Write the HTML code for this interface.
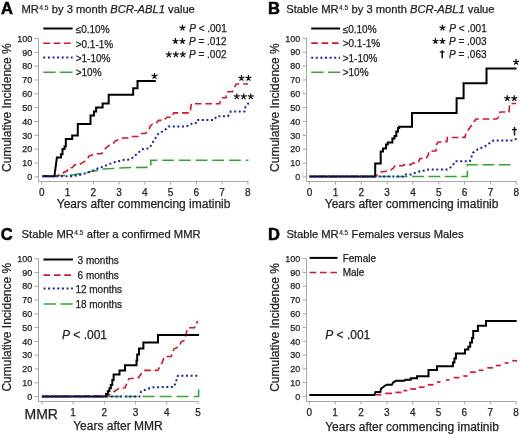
<!DOCTYPE html>
<html><head><meta charset="utf-8"><style>
html,body{margin:0;padding:0;background:#fff;}
svg{display:block;filter:blur(0.3px);}
</style></head><body>
<svg width="520" height="434" viewBox="0 0 520 434" font-family='"Liberation Sans", sans-serif' fill="#222">
<style>text{stroke:#222;stroke-width:0.25px;paint-order:stroke;}</style>
<rect width="520" height="434" fill="#fff"/>
<text x="1.0" y="13.9" font-size="16.5" text-anchor="start" font-weight="bold" style="fill:#000;stroke:#000;stroke-width:0.5px">A</text>
<text x="21.4" y="12.9" font-size="11.2" text-anchor="start" font-weight="normal" >MR<tspan font-size="6.6" dx="0.5" dy="-3.1" stroke-width="0.15">4.5</tspan><tspan dx="0.2" dy="3.1"> by 3 month </tspan><tspan font-style="italic">BCR-ABL1</tspan> value</text>
<line x1="38.5" y1="38.5" x2="38.5" y2="181.5" stroke="#a6a6a6" stroke-width="1"/>
<line x1="38.0" y1="181.5" x2="248.5" y2="181.5" stroke="#a6a6a6" stroke-width="1"/>
<line x1="34.5" y1="176.80" x2="38.5" y2="176.80" stroke="#a6a6a6" stroke-width="1"/>
<text x="32.20" y="180.00" font-size="9" text-anchor="end" font-weight="normal" >0</text>
<line x1="34.5" y1="162.97" x2="38.5" y2="162.97" stroke="#a6a6a6" stroke-width="1"/>
<text x="32.20" y="166.17" font-size="9" text-anchor="end" font-weight="normal" >10</text>
<line x1="34.5" y1="149.14" x2="38.5" y2="149.14" stroke="#a6a6a6" stroke-width="1"/>
<text x="32.20" y="152.34" font-size="9" text-anchor="end" font-weight="normal" >20</text>
<line x1="34.5" y1="135.31" x2="38.5" y2="135.31" stroke="#a6a6a6" stroke-width="1"/>
<text x="32.20" y="138.51" font-size="9" text-anchor="end" font-weight="normal" >30</text>
<line x1="34.5" y1="121.48" x2="38.5" y2="121.48" stroke="#a6a6a6" stroke-width="1"/>
<text x="32.20" y="124.68" font-size="9" text-anchor="end" font-weight="normal" >40</text>
<line x1="34.5" y1="107.65" x2="38.5" y2="107.65" stroke="#a6a6a6" stroke-width="1"/>
<text x="32.20" y="110.85" font-size="9" text-anchor="end" font-weight="normal" >50</text>
<line x1="34.5" y1="93.82" x2="38.5" y2="93.82" stroke="#a6a6a6" stroke-width="1"/>
<text x="32.20" y="97.02" font-size="9" text-anchor="end" font-weight="normal" >60</text>
<line x1="34.5" y1="79.99" x2="38.5" y2="79.99" stroke="#a6a6a6" stroke-width="1"/>
<text x="32.20" y="83.19" font-size="9" text-anchor="end" font-weight="normal" >70</text>
<line x1="34.5" y1="66.16" x2="38.5" y2="66.16" stroke="#a6a6a6" stroke-width="1"/>
<text x="32.20" y="69.36" font-size="9" text-anchor="end" font-weight="normal" >80</text>
<line x1="34.5" y1="52.33" x2="38.5" y2="52.33" stroke="#a6a6a6" stroke-width="1"/>
<text x="32.20" y="55.53" font-size="9" text-anchor="end" font-weight="normal" >90</text>
<line x1="34.5" y1="38.50" x2="38.5" y2="38.50" stroke="#a6a6a6" stroke-width="1"/>
<text x="32.20" y="41.70" font-size="9" text-anchor="end" font-weight="normal" >100</text>
<line x1="41.90" y1="181.5" x2="41.90" y2="184.5" stroke="#a6a6a6" stroke-width="1"/>
<text x="41.90" y="195.7" font-size="10" text-anchor="middle" font-weight="normal" >0</text>
<line x1="67.65" y1="181.5" x2="67.65" y2="184.5" stroke="#a6a6a6" stroke-width="1"/>
<text x="67.65" y="195.7" font-size="10" text-anchor="middle" font-weight="normal" >1</text>
<line x1="93.40" y1="181.5" x2="93.40" y2="184.5" stroke="#a6a6a6" stroke-width="1"/>
<text x="93.40" y="195.7" font-size="10" text-anchor="middle" font-weight="normal" >2</text>
<line x1="119.15" y1="181.5" x2="119.15" y2="184.5" stroke="#a6a6a6" stroke-width="1"/>
<text x="119.15" y="195.7" font-size="10" text-anchor="middle" font-weight="normal" >3</text>
<line x1="144.90" y1="181.5" x2="144.90" y2="184.5" stroke="#a6a6a6" stroke-width="1"/>
<text x="144.90" y="195.7" font-size="10" text-anchor="middle" font-weight="normal" >4</text>
<line x1="170.65" y1="181.5" x2="170.65" y2="184.5" stroke="#a6a6a6" stroke-width="1"/>
<text x="170.65" y="195.7" font-size="10" text-anchor="middle" font-weight="normal" >5</text>
<line x1="196.40" y1="181.5" x2="196.40" y2="184.5" stroke="#a6a6a6" stroke-width="1"/>
<text x="196.40" y="195.7" font-size="10" text-anchor="middle" font-weight="normal" >6</text>
<line x1="222.15" y1="181.5" x2="222.15" y2="184.5" stroke="#a6a6a6" stroke-width="1"/>
<text x="222.15" y="195.7" font-size="10" text-anchor="middle" font-weight="normal" >7</text>
<line x1="247.90" y1="181.5" x2="247.90" y2="184.5" stroke="#a6a6a6" stroke-width="1"/>
<text x="247.90" y="195.7" font-size="10" text-anchor="middle" font-weight="normal" >8</text>
<text x="0" y="0" font-size="12" text-anchor="middle" transform="translate(11.4,107.6) rotate(-90)">Cumulative Incidence %</text>
<text x="56.8" y="207.9" font-size="12" text-anchor="start" font-weight="normal" >Years after commencing imatinib</text>
<line x1="43.3" y1="28.5" x2="72.6" y2="28.5" stroke="#000" stroke-width="2.0"/>
<text x="75.7" y="32.70" font-size="10" text-anchor="start" font-weight="normal" >&#8804;0.10%</text>
<line x1="43.3" y1="43.3" x2="72.6" y2="43.3" stroke="#d81428" stroke-width="1.6" stroke-dasharray="6.6 3.8"/>
<text x="75.7" y="47.50" font-size="10" text-anchor="start" font-weight="normal" >&gt;0.1-1%</text>
<line x1="43.3" y1="57.5" x2="72.6" y2="57.5" stroke="#1e1eb0" stroke-width="2" stroke-dasharray="2 2.6"/>
<text x="75.7" y="61.70" font-size="10" text-anchor="start" font-weight="normal" >&gt;1-10%</text>
<line x1="43.3" y1="72.2" x2="72.6" y2="72.2" stroke="#30a830" stroke-width="1.4" stroke-dasharray="12.3 4.6"/>
<text x="75.7" y="76.40" font-size="10" text-anchor="start" font-weight="normal" >&gt;10%</text>
<path d="M182.45,27.80L182.45,24.70M182.45,27.80L185.40,26.84M182.45,27.80L184.27,30.31M182.45,27.80L180.63,30.31M182.45,27.80L179.50,26.84" stroke="#111" stroke-width="1.25" fill="none" stroke-linecap="butt"/>
<text x="189.2" y="31.5" font-size="10" text-anchor="start" font-weight="normal" ><tspan font-style="italic">P</tspan> &lt; .001</text>
<path d="M175.45,41.20L175.45,38.10M175.45,41.20L178.40,40.24M175.45,41.20L177.27,43.71M175.45,41.20L173.63,43.71M175.45,41.20L172.50,40.24" stroke="#111" stroke-width="1.25" fill="none" stroke-linecap="butt"/>
<path d="M182.45,41.20L182.45,38.10M182.45,41.20L185.40,40.24M182.45,41.20L184.27,43.71M182.45,41.20L180.63,43.71M182.45,41.20L179.50,40.24" stroke="#111" stroke-width="1.25" fill="none" stroke-linecap="butt"/>
<text x="189.0" y="44.8" font-size="10" text-anchor="start" font-weight="normal" ><tspan font-style="italic">P</tspan> = .012</text>
<path d="M168.85,54.50L168.85,51.40M168.85,54.50L171.80,53.54M168.85,54.50L170.67,57.01M168.85,54.50L167.03,57.01M168.85,54.50L165.90,53.54" stroke="#111" stroke-width="1.25" fill="none" stroke-linecap="butt"/>
<path d="M175.85,54.50L175.85,51.40M175.85,54.50L178.80,53.54M175.85,54.50L177.67,57.01M175.85,54.50L174.03,57.01M175.85,54.50L172.90,53.54" stroke="#111" stroke-width="1.25" fill="none" stroke-linecap="butt"/>
<path d="M182.85,54.50L182.85,51.40M182.85,54.50L185.80,53.54M182.85,54.50L184.67,57.01M182.85,54.50L181.03,57.01M182.85,54.50L179.90,53.54" stroke="#111" stroke-width="1.25" fill="none" stroke-linecap="butt"/>
<text x="189.0" y="58.1" font-size="10" text-anchor="start" font-weight="normal" ><tspan font-style="italic">P</tspan> = .002</text>
<polyline points="42.5,176.2 56,175.8 72,175 76,174.4 86.6,172.7 90,171.5 98,170.4 100.5,169.2 112,168.5 118,168 132,167.5 150.8,167.3 150.8,160.2 248.5,160.2" fill="none" stroke="#30a830" stroke-width="1.6" stroke-dasharray="11.8 4.9" stroke-dashoffset="5.99" stroke-linejoin="miter"/>
<polyline points="42.5,176.2 56,176.2 60,174.5 64,172.2 67,171 68.5,168 72.5,167.5 74.5,165 79.5,164.6 83,162.3 86.6,160 89.2,156 96,153.8 101.5,153.8 104.6,149.2 109,145.4 113,144 115,141.2 119,139.6 123,138 128,138 131.5,136.5 137.7,136.5 140,133.5 145,133.5 148.5,131 150,126.5 152.3,124.2 155.4,124.2 158.5,120.4 163.8,120.4 167,117.3 171.5,117.3 173.8,112.9 190,112.9 191.4,103.7 219.6,103.7 221.5,97.8 226,97.8 227,91.7 232.5,91.7 236.2,84 248,84" fill="none" stroke="#d81428" stroke-width="1.6" stroke-dasharray="6.6 3.8" stroke-dashoffset="0" stroke-linejoin="miter"/>
<polyline points="42.5,176.3 54.4,176.3 56.9,157.6 61,157.6 61,154.3 62.5,154.3 62.5,149 64.5,149 64.5,146.5 65.8,146.5 65.8,139 72.2,139 72.2,135.4 77.8,135.4 77.8,124 90.5,124 90.5,115.6 94,115.6 94,111.6 96.1,111.6 96.1,107.6 102.6,107.6 102.6,103.5 108.7,103.5 108.7,94.7 133.2,94.7 133.2,88.2 137.5,88.2 137.5,81 155.8,81" fill="none" stroke="#000" stroke-width="2.0" stroke-linejoin="miter"/>
<polyline points="42.5,176.2 72,176.2 75.5,175.6 79,175 82,174.4 86.6,172.9 91.2,171.5 95.8,169.2 100,167.7 104.6,166 109.2,164.2 113.8,162.5 117.3,161.3 120.8,160.8 124.2,159.8 128.8,159.6 132.3,157.9 134.6,156.2 136.9,153.8 139.8,151.5 142.7,149.2 145,148.3 148.5,148.5 150.8,145.8 152.5,142.9 154.2,140 157,135.8 158.5,133.5 161.5,132 164.6,130.4 168.5,126.5 169.5,126.4 186,126.4 189.9,125.2 192.5,123 197,123 198,120 214,120 216.9,116.2 228,116.2 230.7,111.6 244.5,111.6 245.4,107 249,102.4" fill="none" stroke="#1e1eb0" stroke-width="2" stroke-dasharray="2 2.6" stroke-dashoffset="0" stroke-linejoin="miter"/>
<path d="M154.50,76.00L154.50,72.90M154.50,76.00L157.45,75.04M154.50,76.00L156.32,78.51M154.50,76.00L152.68,78.51M154.50,76.00L151.55,75.04" stroke="#111" stroke-width="1.25" fill="none" stroke-linecap="butt"/>
<path d="M241.45,78.00L241.45,74.90M241.45,78.00L244.40,77.04M241.45,78.00L243.27,80.51M241.45,78.00L239.63,80.51M241.45,78.00L238.50,77.04" stroke="#111" stroke-width="1.25" fill="none" stroke-linecap="butt"/>
<path d="M248.45,78.00L248.45,74.90M248.45,78.00L251.40,77.04M248.45,78.00L250.27,80.51M248.45,78.00L246.63,80.51M248.45,78.00L245.50,77.04" stroke="#111" stroke-width="1.25" fill="none" stroke-linecap="butt"/>
<path d="M236.75,96.50L236.75,93.40M236.75,96.50L239.70,95.54M236.75,96.50L238.57,99.01M236.75,96.50L234.93,99.01M236.75,96.50L233.80,95.54" stroke="#111" stroke-width="1.25" fill="none" stroke-linecap="butt"/>
<path d="M243.75,96.50L243.75,93.40M243.75,96.50L246.70,95.54M243.75,96.50L245.57,99.01M243.75,96.50L241.93,99.01M243.75,96.50L240.80,95.54" stroke="#111" stroke-width="1.25" fill="none" stroke-linecap="butt"/>
<path d="M250.75,96.50L250.75,93.40M250.75,96.50L253.70,95.54M250.75,96.50L252.57,99.01M250.75,96.50L248.93,99.01M250.75,96.50L247.80,95.54" stroke="#111" stroke-width="1.25" fill="none" stroke-linecap="butt"/>
<text x="268.0" y="13.8" font-size="16.5" text-anchor="start" font-weight="bold" style="fill:#000;stroke:#000;stroke-width:0.5px">B</text>
<text x="286.3" y="12.9" font-size="11.2" text-anchor="start" font-weight="normal" >Stable MR<tspan font-size="6.6" dx="0.5" dy="-3.1" stroke-width="0.15">4.5</tspan><tspan dx="0.2" dy="3.1"> by 3 month </tspan><tspan font-style="italic">BCR-ABL1</tspan> value</text>
<line x1="306.5" y1="38.3" x2="306.5" y2="181.5" stroke="#a6a6a6" stroke-width="1"/>
<line x1="306.0" y1="181.5" x2="516.7" y2="181.5" stroke="#a6a6a6" stroke-width="1"/>
<line x1="302.5" y1="177.00" x2="306.5" y2="177.00" stroke="#a6a6a6" stroke-width="1"/>
<text x="300.20" y="180.20" font-size="9" text-anchor="end" font-weight="normal" >0</text>
<line x1="302.5" y1="163.13" x2="306.5" y2="163.13" stroke="#a6a6a6" stroke-width="1"/>
<text x="300.20" y="166.33" font-size="9" text-anchor="end" font-weight="normal" >10</text>
<line x1="302.5" y1="149.26" x2="306.5" y2="149.26" stroke="#a6a6a6" stroke-width="1"/>
<text x="300.20" y="152.46" font-size="9" text-anchor="end" font-weight="normal" >20</text>
<line x1="302.5" y1="135.39" x2="306.5" y2="135.39" stroke="#a6a6a6" stroke-width="1"/>
<text x="300.20" y="138.59" font-size="9" text-anchor="end" font-weight="normal" >30</text>
<line x1="302.5" y1="121.52" x2="306.5" y2="121.52" stroke="#a6a6a6" stroke-width="1"/>
<text x="300.20" y="124.72" font-size="9" text-anchor="end" font-weight="normal" >40</text>
<line x1="302.5" y1="107.65" x2="306.5" y2="107.65" stroke="#a6a6a6" stroke-width="1"/>
<text x="300.20" y="110.85" font-size="9" text-anchor="end" font-weight="normal" >50</text>
<line x1="302.5" y1="93.78" x2="306.5" y2="93.78" stroke="#a6a6a6" stroke-width="1"/>
<text x="300.20" y="96.98" font-size="9" text-anchor="end" font-weight="normal" >60</text>
<line x1="302.5" y1="79.91" x2="306.5" y2="79.91" stroke="#a6a6a6" stroke-width="1"/>
<text x="300.20" y="83.11" font-size="9" text-anchor="end" font-weight="normal" >70</text>
<line x1="302.5" y1="66.04" x2="306.5" y2="66.04" stroke="#a6a6a6" stroke-width="1"/>
<text x="300.20" y="69.24" font-size="9" text-anchor="end" font-weight="normal" >80</text>
<line x1="302.5" y1="52.17" x2="306.5" y2="52.17" stroke="#a6a6a6" stroke-width="1"/>
<text x="300.20" y="55.37" font-size="9" text-anchor="end" font-weight="normal" >90</text>
<line x1="302.5" y1="38.30" x2="306.5" y2="38.30" stroke="#a6a6a6" stroke-width="1"/>
<text x="300.20" y="41.50" font-size="9" text-anchor="end" font-weight="normal" >100</text>
<line x1="309.60" y1="181.5" x2="309.60" y2="184.5" stroke="#a6a6a6" stroke-width="1"/>
<text x="309.60" y="195.7" font-size="10" text-anchor="middle" font-weight="normal" >0</text>
<line x1="335.43" y1="181.5" x2="335.43" y2="184.5" stroke="#a6a6a6" stroke-width="1"/>
<text x="335.43" y="195.7" font-size="10" text-anchor="middle" font-weight="normal" >1</text>
<line x1="361.26" y1="181.5" x2="361.26" y2="184.5" stroke="#a6a6a6" stroke-width="1"/>
<text x="361.26" y="195.7" font-size="10" text-anchor="middle" font-weight="normal" >2</text>
<line x1="387.09" y1="181.5" x2="387.09" y2="184.5" stroke="#a6a6a6" stroke-width="1"/>
<text x="387.09" y="195.7" font-size="10" text-anchor="middle" font-weight="normal" >3</text>
<line x1="412.92" y1="181.5" x2="412.92" y2="184.5" stroke="#a6a6a6" stroke-width="1"/>
<text x="412.92" y="195.7" font-size="10" text-anchor="middle" font-weight="normal" >4</text>
<line x1="438.75" y1="181.5" x2="438.75" y2="184.5" stroke="#a6a6a6" stroke-width="1"/>
<text x="438.75" y="195.7" font-size="10" text-anchor="middle" font-weight="normal" >5</text>
<line x1="464.58" y1="181.5" x2="464.58" y2="184.5" stroke="#a6a6a6" stroke-width="1"/>
<text x="464.58" y="195.7" font-size="10" text-anchor="middle" font-weight="normal" >6</text>
<line x1="490.41" y1="181.5" x2="490.41" y2="184.5" stroke="#a6a6a6" stroke-width="1"/>
<text x="490.41" y="195.7" font-size="10" text-anchor="middle" font-weight="normal" >7</text>
<line x1="516.24" y1="181.5" x2="516.24" y2="184.5" stroke="#a6a6a6" stroke-width="1"/>
<text x="516.24" y="195.7" font-size="10" text-anchor="middle" font-weight="normal" >8</text>
<text x="0" y="0" font-size="12" text-anchor="middle" transform="translate(279.2,107.6) rotate(-90)">Cumulative Incidence %</text>
<text x="324.8" y="207.9" font-size="12" text-anchor="start" font-weight="normal" >Years after commencing imatinib</text>
<line x1="311.2" y1="28.5" x2="340.1" y2="28.5" stroke="#000" stroke-width="2.0"/>
<text x="342.7" y="32.70" font-size="10" text-anchor="start" font-weight="normal" >&#8804;0.10%</text>
<line x1="311.2" y1="43.1" x2="340.1" y2="43.1" stroke="#d81428" stroke-width="1.6" stroke-dasharray="6.6 3.8"/>
<text x="342.7" y="47.30" font-size="10" text-anchor="start" font-weight="normal" >&gt;0.1-1%</text>
<line x1="311.2" y1="57.7" x2="340.1" y2="57.7" stroke="#1e1eb0" stroke-width="2" stroke-dasharray="2 2.6"/>
<text x="342.7" y="61.90" font-size="10" text-anchor="start" font-weight="normal" >&gt;1-10%</text>
<line x1="311.2" y1="72.2" x2="340.1" y2="72.2" stroke="#30a830" stroke-width="1.4" stroke-dasharray="12.3 4.6"/>
<text x="342.7" y="76.40" font-size="10" text-anchor="start" font-weight="normal" >&gt;10%</text>
<path d="M442.45,27.80L442.45,24.70M442.45,27.80L445.40,26.84M442.45,27.80L444.27,30.31M442.45,27.80L440.63,30.31M442.45,27.80L439.50,26.84" stroke="#111" stroke-width="1.25" fill="none" stroke-linecap="butt"/>
<text x="449.2" y="31.5" font-size="10" text-anchor="start" font-weight="normal" ><tspan font-style="italic">P</tspan> &lt; .001</text>
<path d="M435.45,41.20L435.45,38.10M435.45,41.20L438.40,40.24M435.45,41.20L437.27,43.71M435.45,41.20L433.63,43.71M435.45,41.20L432.50,40.24" stroke="#111" stroke-width="1.25" fill="none" stroke-linecap="butt"/>
<path d="M442.45,41.20L442.45,38.10M442.45,41.20L445.40,40.24M442.45,41.20L444.27,43.71M442.45,41.20L440.63,43.71M442.45,41.20L439.50,40.24" stroke="#111" stroke-width="1.25" fill="none" stroke-linecap="butt"/>
<text x="449.0" y="44.8" font-size="10" text-anchor="start" font-weight="normal" ><tspan font-style="italic">P</tspan> = .003</text>
<path d="M442.2,50.2V58.3" stroke="#111" stroke-width="1.5" fill="none"/>
<path d="M439.8,52.0H444.59999999999997" stroke="#111" stroke-width="1.3" fill="none"/>
<text x="449.0" y="58.1" font-size="10" text-anchor="start" font-weight="normal" ><tspan font-style="italic">P</tspan> = .063</text>
<polyline points="309.5,176.5 467.4,176.5 467.4,164.8 512.6,164.8" fill="none" stroke="#30a830" stroke-width="1.6" stroke-dasharray="11.8 4.6" stroke-dashoffset="12.2" stroke-linejoin="miter"/>
<polyline points="309.5,176.5 376,176.5 378,174 381,172 386,171.2 390,170.5 393,168.5 395,165.7 403,165.7 404,164.6 411,164.6 413,163 418,163 420,158.5 426,158.5 428.5,154.6 428.5,151.5 436,150.8 436,145.4 438,142.3 447,141.5 447.3,137.5 465,137.4 465.8,133.4 469.8,127.7 473,122.9 476,119 496.5,119 499.5,116.5 500,112 509,112 509.7,103.5 516,103.5" fill="none" stroke="#d81428" stroke-width="1.6" stroke-dasharray="6.6 3.8" stroke-dashoffset="0" stroke-linejoin="miter"/>
<polyline points="309.5,176.5 375.2,176.5 375.2,163.4 380.7,163.4 380.7,151.6 383,151.6 383,148.6 386,148.6 386,144.5 387.8,144.5 387.8,142.4 392.4,142.4 392.4,138.6 394.5,138.6 394.5,136 396.3,136 396.3,131.5 398,131.5 398,128 399.2,128 399.2,126.7 412,126.7 412,113 456.6,113 456.6,98.3 463.6,98.3 463.6,83.2 486.5,83.2 486.5,68.4 516.5,68.4" fill="none" stroke="#000" stroke-width="2.0" stroke-linejoin="miter"/>
<polyline points="309.5,176.5 403,176.5 404,174.6 411.5,174.6 414.6,173 419.2,171.5 423,170.8 428.5,169.5 447.3,169.5 452,166.5 455.3,161.3 469.8,161.3 473,152.7 478.7,148.7 484.4,146.8 488.4,143.9 493.2,140.6 512.6,140.6 516.6,138.7" fill="none" stroke="#1e1eb0" stroke-width="2" stroke-dasharray="2 2.6" stroke-dashoffset="0" stroke-linejoin="miter"/>
<path d="M516.10,62.00L516.10,58.90M516.10,62.00L519.05,61.04M516.10,62.00L517.92,64.51M516.10,62.00L514.28,64.51M516.10,62.00L513.15,61.04" stroke="#111" stroke-width="1.25" fill="none" stroke-linecap="butt"/>
<path d="M507.25,98.40L507.25,95.30M507.25,98.40L510.20,97.44M507.25,98.40L509.07,100.91M507.25,98.40L505.43,100.91M507.25,98.40L504.30,97.44" stroke="#111" stroke-width="1.25" fill="none" stroke-linecap="butt"/>
<path d="M514.25,98.40L514.25,95.30M514.25,98.40L517.20,97.44M514.25,98.40L516.07,100.91M514.25,98.40L512.43,100.91M514.25,98.40L511.30,97.44" stroke="#111" stroke-width="1.25" fill="none" stroke-linecap="butt"/>
<path d="M514.5,126.9V135.5" stroke="#111" stroke-width="1.5" fill="none"/>
<path d="M512.0,129.6H517.0" stroke="#111" stroke-width="1.3" fill="none"/>
<text x="0.7" y="239.6" font-size="16.5" text-anchor="start" font-weight="bold" style="fill:#000;stroke:#000;stroke-width:0.5px">C</text>
<text x="21.6" y="238.3" font-size="11.2" text-anchor="start" font-weight="normal" >Stable MR<tspan font-size="6.6" dx="0.5" dy="-3.1" stroke-width="0.15">4.5</tspan><tspan dx="0.2" dy="3.1"> after a confirmed MMR</tspan></text>
<line x1="38.5" y1="258.7" x2="38.5" y2="401.5" stroke="#a6a6a6" stroke-width="1"/>
<line x1="38.0" y1="401.5" x2="198.5" y2="401.5" stroke="#a6a6a6" stroke-width="1"/>
<line x1="34.5" y1="396.50" x2="38.5" y2="396.50" stroke="#a6a6a6" stroke-width="1"/>
<text x="32.20" y="399.70" font-size="9" text-anchor="end" font-weight="normal" >0</text>
<line x1="34.5" y1="382.72" x2="38.5" y2="382.72" stroke="#a6a6a6" stroke-width="1"/>
<text x="32.20" y="385.92" font-size="9" text-anchor="end" font-weight="normal" >10</text>
<line x1="34.5" y1="368.94" x2="38.5" y2="368.94" stroke="#a6a6a6" stroke-width="1"/>
<text x="32.20" y="372.14" font-size="9" text-anchor="end" font-weight="normal" >20</text>
<line x1="34.5" y1="355.16" x2="38.5" y2="355.16" stroke="#a6a6a6" stroke-width="1"/>
<text x="32.20" y="358.36" font-size="9" text-anchor="end" font-weight="normal" >30</text>
<line x1="34.5" y1="341.38" x2="38.5" y2="341.38" stroke="#a6a6a6" stroke-width="1"/>
<text x="32.20" y="344.58" font-size="9" text-anchor="end" font-weight="normal" >40</text>
<line x1="34.5" y1="327.60" x2="38.5" y2="327.60" stroke="#a6a6a6" stroke-width="1"/>
<text x="32.20" y="330.80" font-size="9" text-anchor="end" font-weight="normal" >50</text>
<line x1="34.5" y1="313.82" x2="38.5" y2="313.82" stroke="#a6a6a6" stroke-width="1"/>
<text x="32.20" y="317.02" font-size="9" text-anchor="end" font-weight="normal" >60</text>
<line x1="34.5" y1="300.04" x2="38.5" y2="300.04" stroke="#a6a6a6" stroke-width="1"/>
<text x="32.20" y="303.24" font-size="9" text-anchor="end" font-weight="normal" >70</text>
<line x1="34.5" y1="286.26" x2="38.5" y2="286.26" stroke="#a6a6a6" stroke-width="1"/>
<text x="32.20" y="289.46" font-size="9" text-anchor="end" font-weight="normal" >80</text>
<line x1="34.5" y1="272.48" x2="38.5" y2="272.48" stroke="#a6a6a6" stroke-width="1"/>
<text x="32.20" y="275.68" font-size="9" text-anchor="end" font-weight="normal" >90</text>
<line x1="34.5" y1="258.70" x2="38.5" y2="258.70" stroke="#a6a6a6" stroke-width="1"/>
<text x="32.20" y="261.90" font-size="9" text-anchor="end" font-weight="normal" >100</text>
<line x1="41.90" y1="401.5" x2="41.90" y2="404.5" stroke="#a6a6a6" stroke-width="1"/>
<line x1="73.12" y1="401.5" x2="73.12" y2="404.5" stroke="#a6a6a6" stroke-width="1"/>
<text x="73.12" y="415.7" font-size="10" text-anchor="middle" font-weight="normal" >1</text>
<line x1="104.34" y1="401.5" x2="104.34" y2="404.5" stroke="#a6a6a6" stroke-width="1"/>
<text x="104.34" y="415.7" font-size="10" text-anchor="middle" font-weight="normal" >2</text>
<line x1="135.56" y1="401.5" x2="135.56" y2="404.5" stroke="#a6a6a6" stroke-width="1"/>
<text x="135.56" y="415.7" font-size="10" text-anchor="middle" font-weight="normal" >3</text>
<line x1="166.78" y1="401.5" x2="166.78" y2="404.5" stroke="#a6a6a6" stroke-width="1"/>
<text x="166.78" y="415.7" font-size="10" text-anchor="middle" font-weight="normal" >4</text>
<line x1="198.00" y1="401.5" x2="198.00" y2="404.5" stroke="#a6a6a6" stroke-width="1"/>
<text x="198.00" y="415.7" font-size="10" text-anchor="middle" font-weight="normal" >5</text>
<text x="0" y="0" font-size="12" text-anchor="middle" transform="translate(11.4,327.2) rotate(-90)">Cumulative Incidence %</text>
<text x="24.5" y="419.2" font-size="14" text-anchor="start" font-weight="normal" >MMR</text>
<text x="73.2" y="430.4" font-size="12" text-anchor="start" font-weight="normal" >Years after MMR</text>
<line x1="43.5" y1="259.5" x2="72.9" y2="259.5" stroke="#000" stroke-width="2.0"/>
<text x="77.6" y="263.70" font-size="10" text-anchor="start" font-weight="normal" >3 months</text>
<line x1="43.5" y1="275.1" x2="72.9" y2="275.1" stroke="#d81428" stroke-width="1.6" stroke-dasharray="6.6 3.8"/>
<text x="77.6" y="279.30" font-size="10" text-anchor="start" font-weight="normal" >6 months</text>
<line x1="43.5" y1="288.4" x2="72.9" y2="288.4" stroke="#1e1eb0" stroke-width="2" stroke-dasharray="2 2.6"/>
<text x="75.4" y="292.60" font-size="10" text-anchor="start" font-weight="normal" >12 months</text>
<line x1="43.5" y1="304.0" x2="72.9" y2="304.0" stroke="#30a830" stroke-width="1.4" stroke-dasharray="12.3 4.6"/>
<text x="75.4" y="308.20" font-size="10" text-anchor="start" font-weight="normal" >18 months</text>
<text x="62.0" y="338.8" font-size="12" text-anchor="start" font-weight="normal" ><tspan font-style="italic">P</tspan> &lt; .001</text>
<polyline points="41.9,396.5 198.6,396.5 198.6,389.6" fill="none" stroke="#30a830" stroke-width="1.6" stroke-dasharray="12 5" stroke-dashoffset="1.3" stroke-linejoin="miter"/>
<polyline points="41.9,396.5 107.7,396 113.5,392 119.2,388.3 125,387.7 128.8,378.7 138.5,377.7 142.3,372 144,370.4 157.7,370.4 161.5,364.2 164.4,356.5 171.2,356.5 174,348.8 179.4,346.7 181,342 184.6,340.2 186,334.5 187,330.6 188,327.7 194,327.7 196.5,326 197.3,320.8" fill="none" stroke="#d81428" stroke-width="1.6" stroke-dasharray="6.6 3.8" stroke-dashoffset="0" stroke-linejoin="miter"/>
<polyline points="41.9,396.5 106,396.5 106,393.9 107.8,393.9 107.8,391.3 109.4,391.3 109.4,388.2 110.8,388.2 110.8,385 112.3,385 112.3,379.9 113.6,379.9 113.6,374.5 119.5,374.5 119.5,370.5 125,370.5 125,365.2 136.5,365.2 136.5,360.4 137.2,360.4 137.2,354.4 139,354.4 139,348.6 143.4,348.6 143.4,342.4 158,342.4 158,335 199,335" fill="none" stroke="#000" stroke-width="2.0" stroke-linejoin="miter"/>
<polyline points="41.9,396.5 139.4,396.5 141.3,391.2 147,389.2 152,387.3 174,386.9 176,381.5 177.9,375.8 198,375.8" fill="none" stroke="#1e1eb0" stroke-width="2" stroke-dasharray="2 2.6" stroke-dashoffset="0" stroke-linejoin="miter"/>
<text x="268.0" y="239.6" font-size="16.5" text-anchor="start" font-weight="bold" style="fill:#000;stroke:#000;stroke-width:0.5px">D</text>
<text x="286.4" y="238.3" font-size="11.2" text-anchor="start" font-weight="normal" >Stable MR<tspan font-size="6.6" dx="0.5" dy="-3.1" stroke-width="0.15">4.5</tspan><tspan dx="0.2" dy="3.1"> Females versus Males</tspan></text>
<line x1="306.5" y1="258.7" x2="306.5" y2="401.5" stroke="#a6a6a6" stroke-width="1"/>
<line x1="306.0" y1="401.5" x2="516.5" y2="401.5" stroke="#a6a6a6" stroke-width="1"/>
<line x1="302.5" y1="396.40" x2="306.5" y2="396.40" stroke="#a6a6a6" stroke-width="1"/>
<text x="300.20" y="399.60" font-size="9" text-anchor="end" font-weight="normal" >0</text>
<line x1="302.5" y1="382.63" x2="306.5" y2="382.63" stroke="#a6a6a6" stroke-width="1"/>
<text x="300.20" y="385.83" font-size="9" text-anchor="end" font-weight="normal" >10</text>
<line x1="302.5" y1="368.86" x2="306.5" y2="368.86" stroke="#a6a6a6" stroke-width="1"/>
<text x="300.20" y="372.06" font-size="9" text-anchor="end" font-weight="normal" >20</text>
<line x1="302.5" y1="355.09" x2="306.5" y2="355.09" stroke="#a6a6a6" stroke-width="1"/>
<text x="300.20" y="358.29" font-size="9" text-anchor="end" font-weight="normal" >30</text>
<line x1="302.5" y1="341.32" x2="306.5" y2="341.32" stroke="#a6a6a6" stroke-width="1"/>
<text x="300.20" y="344.52" font-size="9" text-anchor="end" font-weight="normal" >40</text>
<line x1="302.5" y1="327.55" x2="306.5" y2="327.55" stroke="#a6a6a6" stroke-width="1"/>
<text x="300.20" y="330.75" font-size="9" text-anchor="end" font-weight="normal" >50</text>
<line x1="302.5" y1="313.78" x2="306.5" y2="313.78" stroke="#a6a6a6" stroke-width="1"/>
<text x="300.20" y="316.98" font-size="9" text-anchor="end" font-weight="normal" >60</text>
<line x1="302.5" y1="300.01" x2="306.5" y2="300.01" stroke="#a6a6a6" stroke-width="1"/>
<text x="300.20" y="303.21" font-size="9" text-anchor="end" font-weight="normal" >70</text>
<line x1="302.5" y1="286.24" x2="306.5" y2="286.24" stroke="#a6a6a6" stroke-width="1"/>
<text x="300.20" y="289.44" font-size="9" text-anchor="end" font-weight="normal" >80</text>
<line x1="302.5" y1="272.47" x2="306.5" y2="272.47" stroke="#a6a6a6" stroke-width="1"/>
<text x="300.20" y="275.67" font-size="9" text-anchor="end" font-weight="normal" >90</text>
<line x1="302.5" y1="258.70" x2="306.5" y2="258.70" stroke="#a6a6a6" stroke-width="1"/>
<text x="300.20" y="261.90" font-size="9" text-anchor="end" font-weight="normal" >100</text>
<line x1="309.30" y1="401.5" x2="309.30" y2="404.5" stroke="#a6a6a6" stroke-width="1"/>
<text x="309.30" y="415.5" font-size="10" text-anchor="middle" font-weight="normal" >0</text>
<line x1="335.15" y1="401.5" x2="335.15" y2="404.5" stroke="#a6a6a6" stroke-width="1"/>
<text x="335.15" y="415.5" font-size="10" text-anchor="middle" font-weight="normal" >1</text>
<line x1="361.00" y1="401.5" x2="361.00" y2="404.5" stroke="#a6a6a6" stroke-width="1"/>
<text x="361.00" y="415.5" font-size="10" text-anchor="middle" font-weight="normal" >2</text>
<line x1="386.85" y1="401.5" x2="386.85" y2="404.5" stroke="#a6a6a6" stroke-width="1"/>
<text x="386.85" y="415.5" font-size="10" text-anchor="middle" font-weight="normal" >3</text>
<line x1="412.70" y1="401.5" x2="412.70" y2="404.5" stroke="#a6a6a6" stroke-width="1"/>
<text x="412.70" y="415.5" font-size="10" text-anchor="middle" font-weight="normal" >4</text>
<line x1="438.55" y1="401.5" x2="438.55" y2="404.5" stroke="#a6a6a6" stroke-width="1"/>
<text x="438.55" y="415.5" font-size="10" text-anchor="middle" font-weight="normal" >5</text>
<line x1="464.40" y1="401.5" x2="464.40" y2="404.5" stroke="#a6a6a6" stroke-width="1"/>
<text x="464.40" y="415.5" font-size="10" text-anchor="middle" font-weight="normal" >6</text>
<line x1="490.25" y1="401.5" x2="490.25" y2="404.5" stroke="#a6a6a6" stroke-width="1"/>
<text x="490.25" y="415.5" font-size="10" text-anchor="middle" font-weight="normal" >7</text>
<line x1="516.10" y1="401.5" x2="516.10" y2="404.5" stroke="#a6a6a6" stroke-width="1"/>
<text x="516.10" y="415.5" font-size="10" text-anchor="middle" font-weight="normal" >8</text>
<text x="0" y="0" font-size="12" text-anchor="middle" transform="translate(279.2,327.5) rotate(-90)">Cumulative Incidence %</text>
<text x="325.2" y="430.8" font-size="12" text-anchor="start" font-weight="normal" >Years after commencing imatinib</text>
<line x1="309.6" y1="257.9" x2="337.5" y2="257.9" stroke="#000" stroke-width="2.0"/>
<line x1="309.6" y1="272.5" x2="337.5" y2="272.5" stroke="#d81428" stroke-width="1.6" stroke-dasharray="6.6 3.8"/>
<text x="342.7" y="261.8" font-size="10" text-anchor="start" font-weight="normal" >Female</text>
<text x="342.7" y="276.4" font-size="10" text-anchor="start" font-weight="normal" >Male</text>
<text x="325.2" y="338.8" font-size="12" text-anchor="start" font-weight="normal" ><tspan font-style="italic">P</tspan> &lt; .001</text>
<line x1="375.6" y1="394.7" x2="381.3" y2="394.7" stroke="#d81428" stroke-width="1.7"/>
<line x1="385.2" y1="393.4" x2="392.0" y2="393.4" stroke="#d81428" stroke-width="1.7"/>
<line x1="395.5" y1="392.4" x2="401.5" y2="392.4" stroke="#d81428" stroke-width="1.7"/>
<line x1="403.5" y1="390.6" x2="407.3" y2="390.6" stroke="#d81428" stroke-width="1.7"/>
<line x1="410.2" y1="389.0" x2="416.0" y2="389.0" stroke="#d81428" stroke-width="1.7"/>
<line x1="418.8" y1="387.2" x2="424.6" y2="387.2" stroke="#d81428" stroke-width="1.7"/>
<line x1="428.0" y1="384.8" x2="433.5" y2="384.8" stroke="#d81428" stroke-width="1.7"/>
<line x1="437.0" y1="382.0" x2="440.5" y2="382.0" stroke="#d81428" stroke-width="1.7"/>
<line x1="446.0" y1="379.9" x2="449.5" y2="379.9" stroke="#d81428" stroke-width="1.7"/>
<line x1="453.7" y1="377.6" x2="459.4" y2="377.6" stroke="#d81428" stroke-width="1.7"/>
<line x1="463.3" y1="376.0" x2="467.5" y2="376.0" stroke="#d81428" stroke-width="1.7"/>
<line x1="470.0" y1="372.2" x2="475.8" y2="372.2" stroke="#d81428" stroke-width="1.7"/>
<line x1="478.7" y1="370.3" x2="483.5" y2="370.3" stroke="#d81428" stroke-width="1.7"/>
<line x1="487.3" y1="367.8" x2="493.1" y2="367.8" stroke="#d81428" stroke-width="1.7"/>
<line x1="496.0" y1="365.5" x2="500.8" y2="365.5" stroke="#d81428" stroke-width="1.7"/>
<line x1="504.6" y1="363.0" x2="508.5" y2="363.0" stroke="#d81428" stroke-width="1.7"/>
<line x1="512.3" y1="360.7" x2="517.0" y2="360.7" stroke="#d81428" stroke-width="1.7"/>
<polyline points="309.3,395 374.5,395 375.5,391.9 380.3,391.9 381.2,388.3 383,387.3 384.5,386 386.5,384.7 391.8,384.7 393.4,382.3 396,380.8 404.2,380.8 405.5,379.7 410.8,379.7 410.8,378.2 417,378.2 417,376.2 428.5,376.2 428.5,370 437,370 437,366.3 452.9,366.3 452.9,362.4 454.4,362.4 454.4,358.4 455.9,358.4 455.9,353.5 465,353.5 465,349.5 468.3,349.5 468.3,346.7 470.2,346.7 470.2,342.6 472,342.6 472,338 473.2,338 473.2,331 477.9,331 477.9,325.8 486,325.8 486,321 516.6,321" fill="none" stroke="#000" stroke-width="2.0" stroke-linejoin="miter"/>
</svg>
</body></html>
